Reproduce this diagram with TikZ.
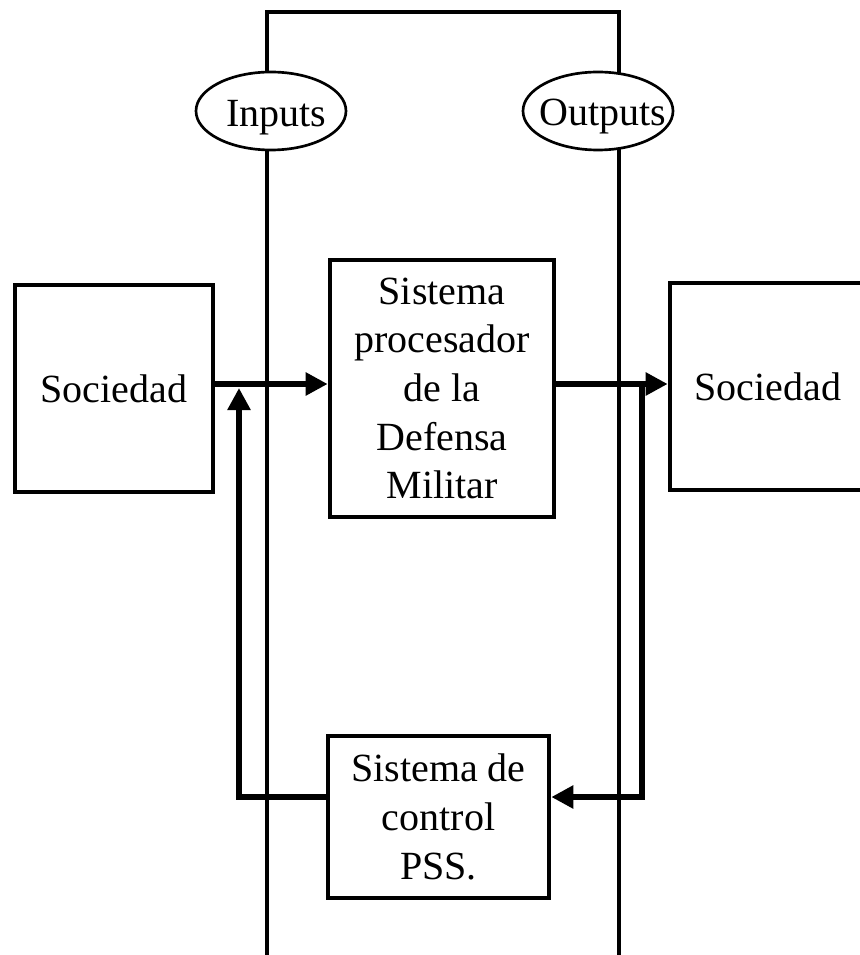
\documentclass[tikz,border=0pt]{standalone}
\usepackage{fontspec}
\setmainfont{Liberation Serif}
\usetikzlibrary{arrows.meta,shapes.geometric}
\begin{document}
\begin{tikzpicture}[x=0.75pt,y=-0.75pt,
  txt/.style={font=\fontsize{30}{36.5}\selectfont},
  box/.style={draw,line width=3.5pt,txt,align=center,inner sep=0pt},
  frameline/.style={line width=3pt},
  oval/.style={draw,ellipse,line width=2pt,fill=white,inner sep=0pt},
  tip/.style={-{Triangle[length=16.5pt,width=16.5pt]}},
  feed/.style={line width=5pt}
]
\useasboundingbox (0,0) rectangle (859,955);
% frame
\draw[frameline] (267,965) -- (267,12) -- (619,12) -- (619,965);
% ellipses
\node[oval,minimum width=150*0.75pt,minimum height=78*0.75pt] (inE) at (271,111) {};
\node[txt,anchor=base] (inT) at (276,127) {Inputs};
\node[oval,minimum width=150*0.75pt,minimum height=78*0.75pt] (outE) at (598,111) {};
\node[txt,anchor=base] (outT) at (603,126) {Outputs};
% boxes
\node[box,minimum width=198*0.75pt,minimum height=207*0.75pt] (socL) at (114,388.5) {Sociedad};
\node[box,minimum width=196*0.75pt,minimum height=207*0.75pt] (socR) at (768,386.5) {Sociedad};
\node[box,minimum width=224*0.75pt,minimum height=257*0.75pt] (proc) at (442,388.5) {Sistema\\procesador\\de la\\Defensa\\Militar};
\node[box,minimum width=221*0.75pt,minimum height=162*0.75pt] (ctrl) at (438.5,817) {Sistema de\\control\\PSS.};
% connectors
\coordinate (ay) at (0,384);
\coordinate (fy) at (0,797);
\coordinate (fr) at (642,384);
\coordinate (fl) at (239,0);
\coordinate (fltop) at (239,388);
\draw[feed,tip] (socL.east |- ay) -- (proc.west |- ay);
\draw[feed,tip] (proc.east |- ay) -- (socR.west |- ay);
\draw[feed,tip] (fr) -- (fr |- fy) -- (ctrl.east |- fy);
\draw[feed,tip] (ctrl.west |- fy) -- (fl |- fy) -- (fltop);
\end{tikzpicture}
\end{document}
